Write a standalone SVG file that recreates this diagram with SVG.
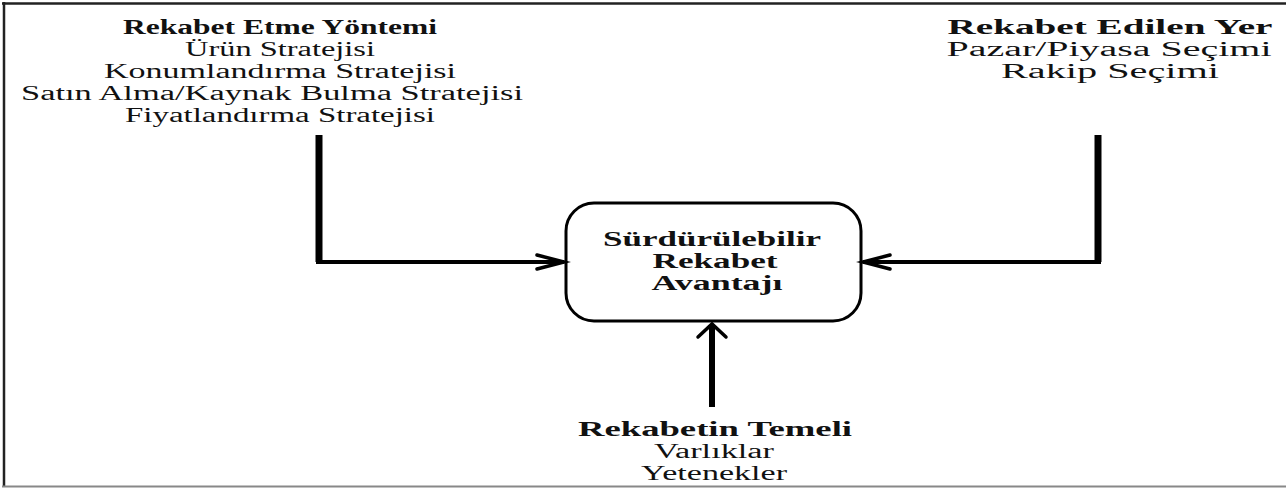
<svg xmlns="http://www.w3.org/2000/svg" width="1286" height="488" viewBox="0 0 1286 488">
<style>
.t{font-family:"Liberation Serif","Times New Roman",serif;font-size:20px;fill:#111;text-anchor:middle}
.b{font-weight:bold}
.conn{fill:none;stroke:#000;stroke-linejoin:miter}
.head{fill:none;stroke:#000;stroke-width:3.5;stroke-linecap:round;stroke-linejoin:miter}
</style>
<rect width="1286" height="488" fill="#fff"/>
<g id="frame">
<line x1="2" y1="3.5" x2="1286" y2="3.5" stroke="#222" stroke-width="2.5"/>
<line x1="4" y1="2" x2="4" y2="487" stroke="#222" stroke-width="2.5"/>
<line x1="2" y1="486.5" x2="1286" y2="486.5" stroke="#888" stroke-width="2"/>
</g>
<g id="method">
<text class="t b" x="280" y="34" textLength="314" lengthAdjust="spacingAndGlyphs">Rekabet Etme Yöntemi</text>
<text class="t" x="280" y="56" textLength="190" lengthAdjust="spacingAndGlyphs">Ürün Stratejisi</text>
<text class="t" x="280" y="78" textLength="352" lengthAdjust="spacingAndGlyphs">Konumlandırma  Stratejisi</text>
<text class="t" x="272" y="100" textLength="502" lengthAdjust="spacingAndGlyphs">Satın Alma/Kaynak  Bulma Stratejisi</text>
<text class="t" x="280" y="122" textLength="310" lengthAdjust="spacingAndGlyphs">Fiyatlandırma  Stratejisi</text>
</g>
<g id="place">
<text class="t b" x="1110" y="34" textLength="325" lengthAdjust="spacingAndGlyphs">Rekabet Edilen  Yer</text>
<text class="t" x="1109" y="56" textLength="325" lengthAdjust="spacingAndGlyphs">Pazar/Piyasa  Seçimi</text>
<text class="t" x="1110" y="78" textLength="218" lengthAdjust="spacingAndGlyphs">Rakip  Seçimi</text>
</g>
<g id="advantage">
<rect x="566" y="203" width="295" height="118" rx="28" ry="28" fill="#fff" stroke="#000" stroke-width="3"/>
<text class="t b" x="712" y="246" textLength="218" lengthAdjust="spacingAndGlyphs">Sürdürülebilir</text>
<text class="t b" x="715" y="268" textLength="125" lengthAdjust="spacingAndGlyphs">Rekabet</text>
<text class="t b" x="717" y="290" textLength="131" lengthAdjust="spacingAndGlyphs">Avantajı</text>
</g>
<g id="basis">
<text class="t b" x="715" y="436" textLength="274" lengthAdjust="spacingAndGlyphs">Rekabetin  Temeli</text>
<text class="t" x="714" y="458" textLength="120" lengthAdjust="spacingAndGlyphs">Varlıklar</text>
<text class="t" x="714" y="480" textLength="146" lengthAdjust="spacingAndGlyphs">Yetenekler</text>
</g>
<g id="connectors">
<path class="conn" d="M319 135 V262" stroke-width="7"/>
<path class="conn" d="M316 262 H564" stroke-width="4"/>
<polyline class="head" points="537,255 564,262 537,269"/>
<path class="conn" d="M1098 135 V262" stroke-width="7"/>
<path class="conn" d="M1101 262 H863" stroke-width="4"/>
<polyline class="head" points="890,255 863,262 890,269"/>
<path class="conn" d="M712 407 V325" stroke-width="6"/>
<polyline class="head" points="698,337 712,324 726,337"/>
</g>
</svg>
